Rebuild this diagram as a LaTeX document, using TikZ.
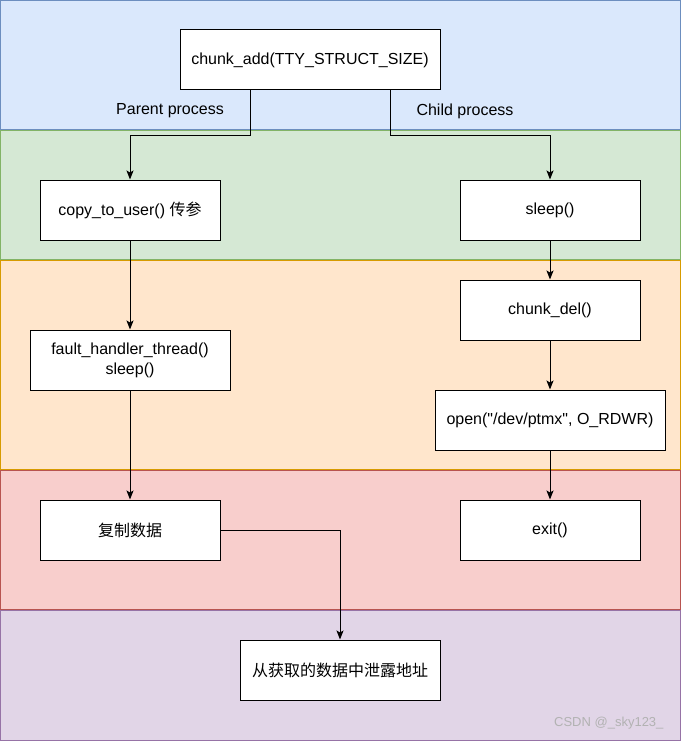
\documentclass[tikz,border=0pt]{standalone}
\usepackage{fontspec}
\setmainfont[Ligatures=TeXOff]{Liberation Sans}
\newfontfamily\cjk{Noto Sans CJK SC}
\usetikzlibrary{arrows.meta}

\begin{document}
\begin{tikzpicture}[x=1pt, y=-1pt, font=\fontsize{16}{20}\selectfont,
  box/.style={draw, line width=1pt, fill=white, minimum width=180pt,
              minimum height=60pt, inner sep=2pt, align=center},
  arr/.style={line width=1pt, -{Stealth[length=9pt, width=7pt, inset=2pt]}}]

% --- lane colors (draw.io defaults) ---
\definecolor{cBlueF}  {HTML}{DAE8FC} \definecolor{cBlueD}  {HTML}{6C8EBF}
\definecolor{cGreenF} {HTML}{D5E8D4} \definecolor{cGreenD} {HTML}{82B366}
\definecolor{cOrangeF}{HTML}{FFE6CC} \definecolor{cOrangeD}{HTML}{D79B00}
\definecolor{cRedF}   {HTML}{F8CECC} \definecolor{cRedD}   {HTML}{B85450}
\definecolor{cPurpleF}{HTML}{E1D5E7} \definecolor{cPurpleD}{HTML}{9673A6}

\useasboundingbox (0,0) rectangle (681,741);

% --- lanes ---
\foreach \fam/\ya/\yb in
  {cBlue/0/130, cGreen/130/260, cOrange/260/470, cRed/470/610, cPurple/610/741}{%
  \filldraw[fill=\fam F, draw=\fam D, line width=1pt]
    (0.5,\ya+0.5) rectangle (680.5,\yb-0.5);
}

% --- steps ---
\node[box, minimum width=260pt] (add) at (310,60) {chunk\_add(TTY\_STRUCT\_SIZE)};
\node[box] (copy)   at (130,210) {copy\_to\_user() {\cjk 传参}};
\node[box] (sleepA) at (550,210) {sleep()};
\node[box] (del)    at (550,310) {chunk\_del()};
\node[box, minimum width=200pt] (fault) at (130,360) {fault\_handler\_thread()\\sleep()};
\node[box, minimum width=230pt] (open)  at (550,420) {open("/dev/ptmx", O\_RDWR)};
\node[box] (copyd)  at (130,530) {\cjk 复制数据};
\node[box] (exit)   at (550,530) {exit()};
\node[box, minimum width=200pt] (leak)  at (340,670) {\cjk 从获取的数据中泄露地址};

% --- branch labels ---
\node (parent) at (170,111) {Parent process};
\node (child)  at (465,111) {Child process};

% --- flow ---
\draw[arr] ([xshift=-60pt]add.south) -- ++(0,45) -| (copy.north);
\draw[arr] ([xshift=80pt]add.south) -- ++(0,45) -| (sleepA.north);
\draw[arr] (copy) -- (fault);
\draw[arr] (fault) -- (copyd);
\draw[arr] (sleepA) -- (del);
\draw[arr] (del) -- (open);
\draw[arr] (open) -- (exit);
\draw[arr] (copyd.east) -| (leak.north);

\node[anchor=east, text=black!30, font=\fontsize{13}{15}\selectfont]
  (mark) at (667,723) {CSDN @\_sky123\_};

\end{tikzpicture}
\end{document}
